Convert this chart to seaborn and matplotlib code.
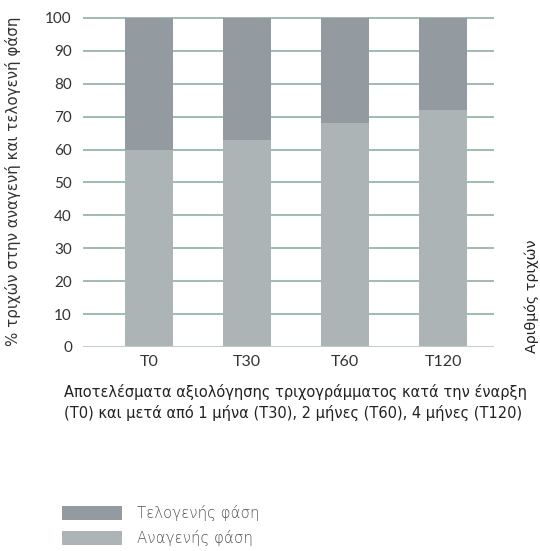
import matplotlib
matplotlib.use("Agg")
import matplotlib.pyplot as plt
import seaborn as sns
import pandas as pd
from matplotlib.patches import Patch

categories = ["T0", "T30", "T60", "T120"]
anagen = [60, 63, 68, 72]
telogen = [40, 37, 32, 28]
yticks = [0, 10, 20, 30, 40, 50, 60, 70, 80, 90, 100]

sns.set_theme(style="white")
plt.rcParams['font.family'] = ['Lato', 'DejaVu Sans']

c_tel = "#939aa0"
c_ana = "#adb4b6"
c_grid = "#8fb0a4"
c_text = "#333333"
wide = ['DejaVu Sans']

df = pd.DataFrame({"cat": categories, "ana": anagen,
                   "total": [a + t for a, t in zip(anagen, telogen)]})

fig = plt.figure(figsize=(5.4, 5.51), dpi=100)
ax = fig.add_axes([83/540, 1-347/551, (494-83)/540, (347-14.7)/551])

for y in yticks:
    ax.axhline(y, color=c_grid, lw=1.2, zorder=0)

sns.barplot(data=df, x="cat", y="total", color=c_tel, width=0.49, ax=ax,
            saturation=1, zorder=2, linewidth=0)
sns.barplot(data=df, x="cat", y="ana", color=c_ana, width=0.49, ax=ax,
            saturation=1, zorder=3, linewidth=0)

ax.axhline(0, color="#c3d2cd", lw=2, zorder=4)
ax.set_xlim(-0.673, 3.52)
ax.set_ylim(0, 101)
ax.set_yticks(yticks)
ax.set_yticklabels([str(v) for v in yticks], fontsize=11, color=c_text)
ax.set_xticks(range(len(categories)))
ax.set_xticklabels(categories, fontsize=11.5, color=c_text)
ax.tick_params(axis='y', length=0, pad=8)
ax.tick_params(axis='x', length=0, pad=6)
ax.set_xlabel("")
ax.set_ylabel("% τριχών στην αναγενή και τελογενή φάση", fontsize=10.8,
              color=c_text, family=wide)
ax.yaxis.set_label_coords(-0.15, 0.5)
for s in ax.spines.values():
    s.set_visible(False)

fig.text(64/540, 1-392/551, "Αποτελέσματα αξιολόγησης τριχογράμματος κατά την έναρξη",
         fontsize=10.5, color="#222222", va="center", ha="left", family=wide)
fig.text(64/540, 1-413/551, "(T0) και μετά από 1 μήνα (T30), 2 μήνες (T60), 4 μήνες (T120)",
         fontsize=10.5, color="#222222", va="center", ha="left", family=wide)

fig.text(532/540, 1-353/551, "Αριθμός τριχών", rotation=90, fontsize=10.3,
         color="#222222", ha="center", va="bottom", family=wide)

handles = [Patch(facecolor=c_tel, edgecolor="none"),
           Patch(facecolor=c_ana, edgecolor="none")]
fig.legend(handles, ["Τελογενής φάση", "Αναγενής φάση"], loc="upper left",
           bbox_to_anchor=(62/540, 1-505/551), frameon=False,
           handlelength=4.0, handleheight=1.1, handletextpad=1.0,
           labelspacing=0.6, borderpad=0, borderaxespad=0,
           prop={'family': wide, 'weight': 'light', 'size': 10.8})
for t in fig.legends[0].get_texts():
    t.set_color("#555555")

fig.savefig("out.png", dpi=100)
